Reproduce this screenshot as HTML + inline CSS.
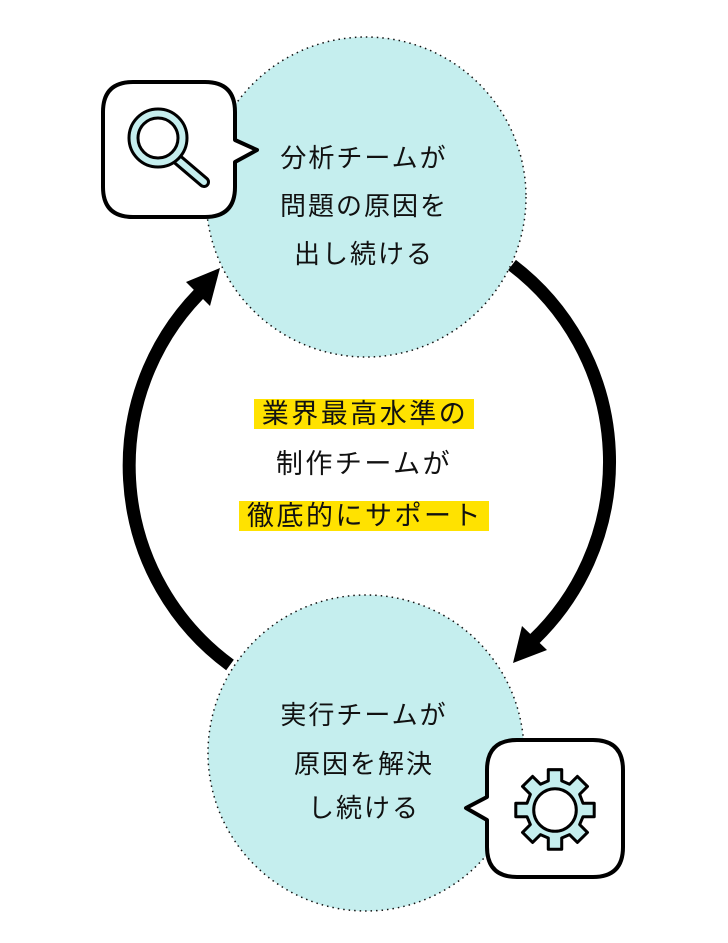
<!DOCTYPE html>
<html><head><meta charset="utf-8"><style>
html,body{margin:0;padding:0;background:#fff;}
body{width:728px;height:943px;position:relative;overflow:hidden;font-family:"Liberation Sans","Noto Sans CJK JP",sans-serif;}
.t{position:absolute;left:0;width:728px;text-align:center;font-size:26px;color:#111;line-height:32px;letter-spacing:2px;}
.c{font-size:27px;letter-spacing:2.5px;}
.hl{background:#ffe200;padding:0 6px 0 8px;}
</style></head><body>
<svg width="728" height="943" style="position:absolute;left:0;top:0">
<circle cx="366" cy="197" r="160" fill="#c5eeee" stroke="#111" stroke-width="1.5" stroke-dasharray="1.5 4"/>
<circle cx="366" cy="753" r="158" fill="#c5eeee" stroke="#111" stroke-width="1.5" stroke-dasharray="1.5 4"/>
<path d="M512 265 A247 247 0 0 1 528 645" fill="none" stroke="#000" stroke-width="13"/>
<polygon points="513,663 522,626 547,650" fill="#000"/>
<path d="M230 665 A247 247 0 0 1 208 285" fill="none" stroke="#000" stroke-width="13"/>
<polygon points="220,268 210,306 186,282" fill="#000"/>
<path d="M133 82 H205 Q235 82 235 112 V140 L257 150 L235 162 V187 Q235 217 205 217 H133 Q103 217 103 187 V112 Q103 82 133 82Z" fill="#fff" stroke="#000" stroke-width="4" stroke-linejoin="round"/>
<line x1="177" y1="159" x2="204" y2="182" stroke="#000" stroke-width="12" stroke-linecap="round"/>
<line x1="177" y1="159" x2="204" y2="182" stroke="#c5eeee" stroke-width="6" stroke-linecap="round"/>
<circle cx="158" cy="138" r="29" fill="#c5eeee" stroke="#000" stroke-width="3"/>
<circle cx="158" cy="138" r="20" fill="#fff" stroke="#000" stroke-width="3"/>
<path d="M517 740 H593 Q623 740 623 770 V847 Q623 877 593 877 H517 Q487 877 487 847 V820 L466 808 L487 797 V770 Q487 740 517 740Z" fill="#fff" stroke="#000" stroke-width="4" stroke-linejoin="round"/>
<g transform="translate(555,810) scale(1.12)" fill="#c5eeee" stroke="#000" stroke-width="2.7" stroke-linejoin="round">
<path d="M-6,-36 H6 V-26 L13,-23 L20,-30 L29,-21 L22,-14 L25,-6 H35 V6 H25 L22,13 L29,20 L20,29 L13,22 L6,25 V35 H-6 V25 L-13,22 L-20,29 L-29,20 L-22,13 L-25,6 H-35 V-6 H-25 L-22,-14 L-29,-21 L-20,-30 L-13,-23 L-6,-26Z"/>
<circle cx="0" cy="0" r="19" fill="#fff"/>
</g>
</svg>
<div class="t" style="top:142px">分析チームが</div>
<div class="t" style="top:190px">問題の原因を</div>
<div class="t" style="top:238px">出し続ける</div>
<div class="t c" style="top:398px"><span class="hl">業界最高水準の</span></div>
<div class="t c" style="top:448px">制作チームが</div>
<div class="t c" style="top:500px"><span class="hl">徹底的にサポート</span></div>
<div class="t" style="top:699px">実行チームが</div>
<div class="t" style="top:748px">原因を解決</div>
<div class="t" style="top:792px">し続ける</div>
</body></html>
